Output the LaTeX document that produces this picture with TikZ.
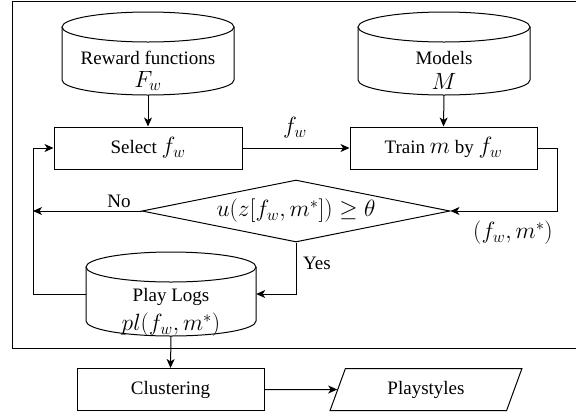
\RequirePackage{fix-cm}
\documentclass[tikz,border=0pt]{standalone}
\usepackage{fontspec}
\setmainfont{Liberation Serif}
\DeclareMathSizes{19}{23.5}{16.45}{11.75}
\DeclareMathSizes{23.5}{23.5}{16.45}{11.75}
\usetikzlibrary{shapes.geometric,arrows.meta}
\newcommand\cylshape[5]{% name, cx, ytop, ybot, rx
  \node[inner sep=0pt, minimum width={2*#5*1pt}, minimum height={(#4-#3+30)*1pt}] (#1) at (#2,{-(#3+#4)/2}) {};
  \draw[plain] (#2,-#3) ellipse[x radius=#5pt, y radius=15pt];
  \draw[plain] ({#2-#5},-#3) -- ({#2-#5},-#4) arc[start angle=180, end angle=360, x radius=#5pt, y radius=15pt] -- ({#2+#5},-#3);
}
\begin{document}
\begin{tikzpicture}[x=1pt,y=1pt,
  every node/.style={font=\fontsize{19}{22}\selectfont},
  plain/.style={line width=1pt},
  lbl/.style={inner sep=0.5pt},
  box/.style={draw, line width=1pt, rectangle, minimum width=188pt, minimum height=42pt, inner sep=0pt},
  conn/.style={line width=1pt, -{Stealth[length=9pt,width=8pt,inset=2.5pt]}},
  big/.style={font=\fontsize{23.5}{26}\selectfont},
]
\useasboundingbox (0,0) rectangle (576,-416);
\draw[plain] (12.5,-1.5) rectangle (600,-348);

\cylshape{rf}{148}{27}{80}{86}
\node[lbl] (rft) at (148,-58) {Reward functions};
\node[lbl] (rfm) at (148,-81) {$F_w$};
\cylshape{md}{444}{27}{80}{86}
\node[lbl] (mdt) at (444,-58) {Models};
\node[lbl] (mdm) at (444,-81) {$M$};

\node[box] (sel) at (148,-148) {Select $f_w$};
\node[box, minimum width=187pt] (tr) at (443.5,-148) {Train $m$ by $f_w$};
\draw[conn] (rf.south) -- (sel.north);
\draw[conn] (md.south) -- (tr.north);
\draw[conn] (sel.east) -- (tr.west);
\node[big] (fw) at (295,-128) {$f_w$};

\node[draw, diamond, line width=1pt, minimum width=308pt, minimum height=62pt, inner sep=0pt, aspect=4.97, big] (dec) at (296,-211) {$u(z[f_w,m^*])\geq\theta$};
\coordinate (rc) at (557,-211);
\draw[conn] (tr.east) -| (rc) -- (dec.east);
\node[big] (pair) at (513,-233) {$(f_w,m^*)$};

\coordinate (lx) at (33,-211);
\draw[conn] (dec.west) -- (lx);
\node (no) at (119,-201) {No};

\cylshape{pl}{171}{267}{321}{85}
\node[lbl] (plt) at (171,-297) {Play Logs};
\node[lbl] (plm) at (171,-325) {$pl(f_w,m^*)$};

\coordinate (lt) at (33,-148);
\draw[conn] (pl.west) -| (lt) -- (sel.west);
\draw[conn] (dec.south) |- (pl.east);
\node (yes) at (317,-263) {Yes};

\node[box, minimum width=187pt] (cl) at (170.5,-389.5) {Clustering};
\node[draw, line width=1pt, trapezium, trapezium left angle=67, trapezium right angle=113, trapezium stretches=true, minimum width=192pt, minimum height=42pt, inner sep=0pt] (ps) at (426,-389.5) {Playstyles};
\draw[conn] (pl.south) -- (cl.north);
\draw[conn] (cl) -- (ps);
\end{tikzpicture}
\end{document}
